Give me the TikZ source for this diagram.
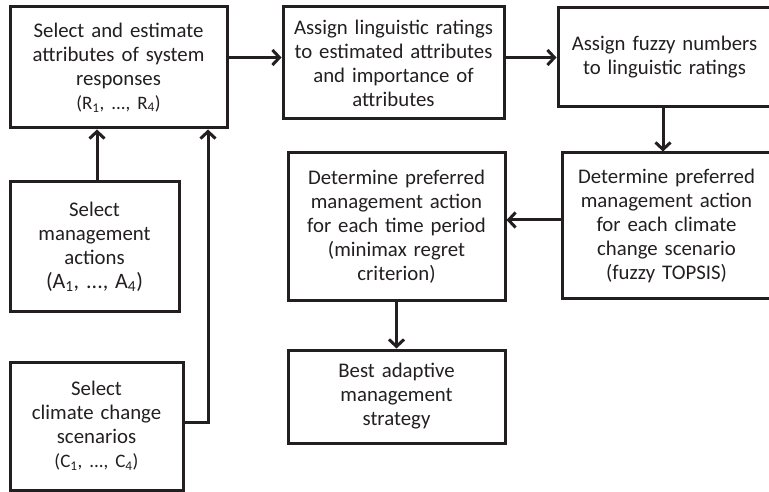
\documentclass[tikz,border=0pt]{standalone}
\usepackage{fontspec}
\setmainfont{Carlito}
\usetikzlibrary{arrows.meta}
\definecolor{ink}{HTML}{231F20}
\begin{document}
\begin{tikzpicture}[x=1pt,y=-1pt,
  box/.style={draw=ink, line width=3pt, inner sep=0pt, align=center, text=ink,
    font=\fontsize{20.8}{24}\selectfont},
  arr/.style={draw=ink, line width=3pt, -{Straight Barb[length=7pt,width=15pt]}}]
\useasboundingbox (0,0) rectangle (769,492);
\newcommand{\idx}[1]{{\fontsize{19}{24}\selectfont #1}}
\node[box, minimum width=217pt, minimum height=121pt, text width=212pt] (B1) at (118.5,67.5)
  {Select and estimate\\attributes of system\\responses\\\idx{(R\textsubscript{1}, ..., R\textsubscript{4})}};
\node[box, minimum width=221pt, minimum height=112pt, text width=218pt] (B2) at (393.5,63)
  {Assign linguistic ratings\\to estimated attributes\\and importance of\\attributes};
\node[box, minimum width=213pt, minimum height=99pt, text width=208pt] (B3) at (664.5,57.5)
  {Assign fuzzy numbers\\to linguistic ratings};
\node[box, minimum width=209pt, minimum height=145pt, text width=205pt] (B5) at (666.5,225.5)
  {Determine preferred\\management action\\for each climate\\change scenario\\(fuzzy TOPSIS)};
\node[box, minimum width=217pt, minimum height=147pt, text width=212pt] (B4) at (396.5,226.5)
  {Determine preferred\\management action\\for each time period\\(minimax regret\\criterion)};
\node[box, minimum width=169pt, minimum height=129pt, text width=164pt] (B6) at (94.5,246.5)
  {Select\\management\\actions\\{\fontsize{22}{27}\selectfont(A\textsubscript{1}, ..., A\textsubscript{4})}};
\node[box, minimum width=173pt, minimum height=128pt, text width=168pt] (B7) at (96.5,426)
  {Select\\climate change\\scenarios\\\idx{(C\textsubscript{1}, ..., C\textsubscript{4})}};
\node[box, minimum width=217pt, minimum height=93pt, text width=212pt] (B8) at (396.5,396.5)
  {Best adaptive\\management\\strategy};
\draw[arr] (B1.east |- B3.west) -- (B2.west |- B3.west);
\draw[arr] (B2.east |- B3.west) -- (B3.west);
\draw[arr] ([xshift=-1.5pt]B3.south) -- ([xshift=-1.5pt]B3.south |- B5.north);
\draw[arr] ([yshift=5.5pt]B5.west) -- ([yshift=5.5pt]B5.west -| B4.east);
\draw[arr] (B4.south) -- (B8.north);
\draw[arr] ([xshift=2.5pt]B6.north) -- ([xshift=2.5pt]B6.north |- B1.south);
\draw[arr] ([yshift=4pt]B7.east) -| ([xshift=89.5pt]B1.south);
\end{tikzpicture}
\end{document}
